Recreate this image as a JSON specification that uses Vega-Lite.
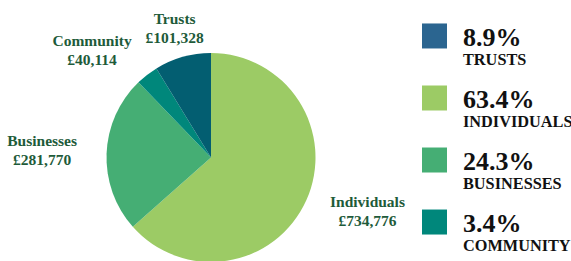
{
  "$schema": "https://vega.github.io/schema/vega-lite/v6.json",
  "padding": 0,
  "background": "white",
  "config": {"view": {"stroke": null}, "font": "Liberation Serif"},
  "datasets": {
    "funding": [
      {"source": "Individuals", "rank": 1, "amount": 734776, "label": "Individuals\n£734,776", "pct": "63.4%", "caption": "INDIVIDUALS"},
      {"source": "Businesses", "rank": 2, "amount": 281770, "label": "Businesses\n£281,770", "pct": "24.3%", "caption": "BUSINESSES"},
      {"source": "Community", "rank": 3, "amount": 40114, "label": "Community\n£40,114", "pct": "3.4%", "caption": "COMMUNITY"},
      {"source": "Trusts", "rank": 4, "amount": 101328, "label": "Trusts\n£101,328", "pct": "8.9%", "caption": "TRUSTS"}
    ]
  },
  "spacing": 0,
  "hconcat": [
    {
      "width": 422,
      "height": 315,
      "data": {"name": "funding"},
      "encoding": {
        "theta": {"field": "amount", "type": "quantitative", "stack": true},
        "order": {"field": "rank", "type": "quantitative"}
      },
      "layer": [
        {
          "mark": {"type": "arc", "outerRadius": 104.5},
          "encoding": {
            "color": {
              "field": "source",
              "type": "nominal",
              "scale": {"domain": ["Individuals", "Businesses", "Community", "Trusts"], "range": ["#9ccb65", "#45ae74", "#00877b", "#035e71"]},
              "legend": null
            }
          }
        },
        {
          "mark": {"type": "text", "clip": true, "radius": 134, "dy": -9.5, "fontSize": 15.5, "fontWeight": "bold", "lineBreak": "\n", "lineHeight": 19, "color": "#1e5b3a", "align": "center", "baseline": "middle"},
          "encoding": {
            "detail": {"field": "source", "type": "nominal"},
            "text": {"condition": {"test": "datum.source === 'Trusts'", "field": "label"}, "value": ""}
          }
        },
        {
          "mark": {"type": "text", "clip": true, "radius": 169, "dy": -9.5, "fontSize": 15.5, "fontWeight": "bold", "lineBreak": "\n", "lineHeight": 19, "color": "#1e5b3a", "align": "center", "baseline": "middle"},
          "encoding": {
            "detail": {"field": "source", "type": "nominal"},
            "text": {"condition": {"test": "datum.source === 'Businesses'", "field": "label"}, "value": ""}
          }
        },
        {
          "mark": {"type": "text", "clip": true, "radius": 165, "dx": 6, "dy": -23.5, "fontSize": 15.5, "fontWeight": "bold", "lineBreak": "\n", "lineHeight": 19, "color": "#1e5b3a", "align": "center", "baseline": "middle"},
          "encoding": {
            "detail": {"field": "source", "type": "nominal"},
            "text": {"condition": {"test": "datum.source === 'Individuals'", "field": "label"}, "value": ""}
          }
        },
        {
          "mark": {"type": "text", "clip": true, "radius": 160, "dx": -21, "dy": 10.5, "fontSize": 15.5, "fontWeight": "bold", "lineBreak": "\n", "lineHeight": 19, "color": "#1e5b3a", "align": "center", "baseline": "middle"},
          "encoding": {
            "detail": {"field": "source", "type": "nominal"},
            "text": {"condition": {"test": "datum.source === 'Community'", "field": "label"}, "value": ""}
          }
        }
      ]
    },
    {
      "width": 17,
      "height": 258,
      "data": {"name": "funding"},
      "encoding": {
        "x": {"datum": 0.5, "type": "quantitative", "scale": {"domain": [0, 1]}, "axis": null},
        "y": {
          "field": "source",
          "type": "nominal",
          "scale": {"type": "point", "domain": ["Trusts", "Individuals", "Businesses", "Community"], "padding": 0.58},
          "axis": null
        }
      },
      "layer": [
        {
          "mark": {"type": "square", "size": 625, "filled": true, "opacity": 1},
          "encoding": {
            "color": {
              "field": "source",
              "type": "nominal",
              "scale": {"domain": ["Trusts", "Individuals", "Businesses", "Community"], "range": ["#2b6590", "#9ccb65", "#45ae74", "#00877b"]},
              "legend": null
            }
          }
        },
        {
          "mark": {"type": "text", "align": "left", "baseline": "alphabetic", "dx": 28.5, "dy": 10, "fontSize": 26, "fontWeight": "bold", "color": "#111111"},
          "encoding": {"text": {"field": "pct"}}
        },
        {
          "mark": {"type": "text", "align": "left", "baseline": "alphabetic", "dx": 28.5, "dy": 29, "fontSize": 16.3, "fontWeight": "bold", "color": "#111111"},
          "encoding": {"text": {"field": "caption"}}
        }
      ]
    }
  ],
  "resolve": {"scale": {"color": "independent"}}
}
